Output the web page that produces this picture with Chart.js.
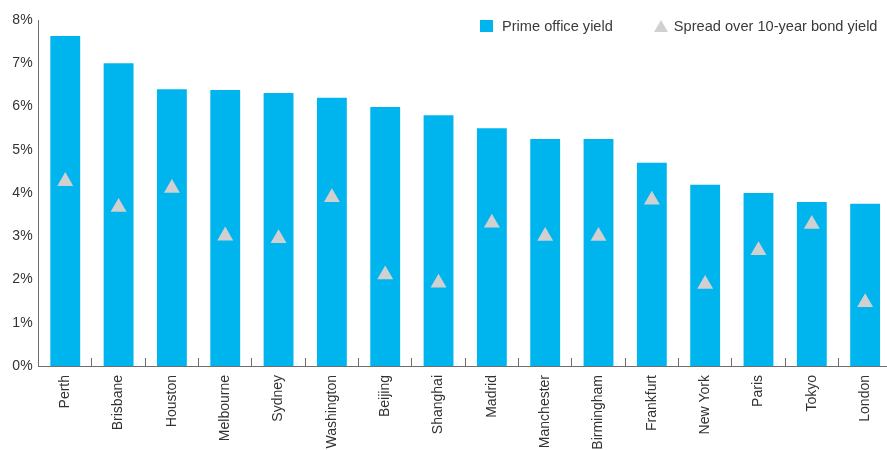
<!DOCTYPE html>
<html>
<head>
<meta charset="utf-8">
<script src="https://cdn.jsdelivr.net/npm/chart.js@4"></script>
<style>
  html, body { margin: 0; padding: 0; background: #fff; overflow: hidden; width: 887px; height: 450px; }
  #wrap { position: relative; width: 901px; height: 450px; }
  #legend { position: absolute; top: 18px; left: 480px; font: 14.6px "Liberation Sans", Arial, sans-serif; color: #3a3a3a; white-space: nowrap; }
  #legend .item { display: inline-flex; align-items: center; height: 16px; }
  #legend .sq { width: 13px; height: 12px; background: #00b5ee; margin-right: 9px; }
  #legend .tri { width: 0; height: 0; border-left: 7px solid transparent; border-right: 7px solid transparent; border-bottom: 12px solid #d0d0d1; margin-right: 6px; margin-left: 41px; }
</style>
</head>
<body>
<div id="wrap">
  <canvas id="c" width="901" height="450"></canvas>
  <div id="legend">
    <span class="item"><span class="sq"></span>Prime office yield</span><span class="item"><span class="tri"></span>Spread over 10-year bond yield</span>
  </div>
</div>
<script>
const cities = ["Perth","Brisbane","Houston","Melbourne","Sydney","Washington","Beijing","Shanghai","Madrid","Manchester","Birmingham","Frankfurt","New York","Paris","Tokyo","London"];
const primeYield = [7.63, 7.00, 6.40, 6.38, 6.31, 6.20, 5.99, 5.80, 5.50, 5.25, 5.25, 4.70, 4.19, 4.00, 3.79, 3.75];
const spread = [4.27, 3.67, 4.11, 3.01, 2.95, 3.90, 2.11, 1.92, 3.31, 3.00, 3.00, 3.84, 1.89, 2.67, 3.28, 1.47];
const yTicks = [0, 1, 2, 3, 4, 5, 6, 7, 8];
const seriesNames = ["Prime office yield", "Spread over 10-year bond yield"];

const FONT = '"Liberation Sans", Arial, sans-serif';
new Chart(document.getElementById('c'), {
  type: 'bar',
  data: {
    labels: cities,
    datasets: [
      {
        type: 'line',
        label: seriesNames[1],
        data: spread,
        showLine: false,
        pointStyle: 'triangle',
        pointRadius: 9.2,
        pointHoverRadius: 9.2,
        pointBackgroundColor: '#d0d0d1',
        pointBorderColor: '#d0d0d1',
        pointBorderWidth: 0,
        order: 0
      },
      {
        type: 'bar',
        label: seriesNames[0],
        data: primeYield,
        backgroundColor: '#00b5ee',
        barPercentage: 0.56,
        categoryPercentage: 1.0,
        order: 1
      }
    ]
  },
  options: {
    responsive: false,
    animation: false,
    events: [],
    layout: { padding: { top: 20, left: 0, right: 0, bottom: 0 } },
    plugins: { legend: { display: false }, tooltip: { enabled: false } },
    scales: {
      x: {
        offset: true,
        grid: { offset: true, display: true, drawOnChartArea: false, drawTicks: true, tickLength: -8, color: '#6e6e6e', lineWidth: 1 },
        border: { display: true, color: '#6e6e6e', width: 1 },
        ticks: { minRotation: 90, maxRotation: 90, autoSkip: false, padding: 17, color: '#333', font: { family: FONT, size: 14 } },
        afterFit: (s) => { s.height = 84; }
      },
      y: {
        min: 0,
        max: 8,
        afterBuildTicks: (s) => { s.ticks = yTicks.map(v => ({ value: v })); },
        grid: { display: false, drawTicks: false },
        border: { display: true, color: '#6e6e6e', width: 1 },
        ticks: { padding: 6, color: '#333', font: { family: FONT, size: 14 }, callback: (v) => v + '%' },
        afterFit: (s) => { s.width = 38.6; }
      }
    }
  }
});
</script>
</body>
</html>
